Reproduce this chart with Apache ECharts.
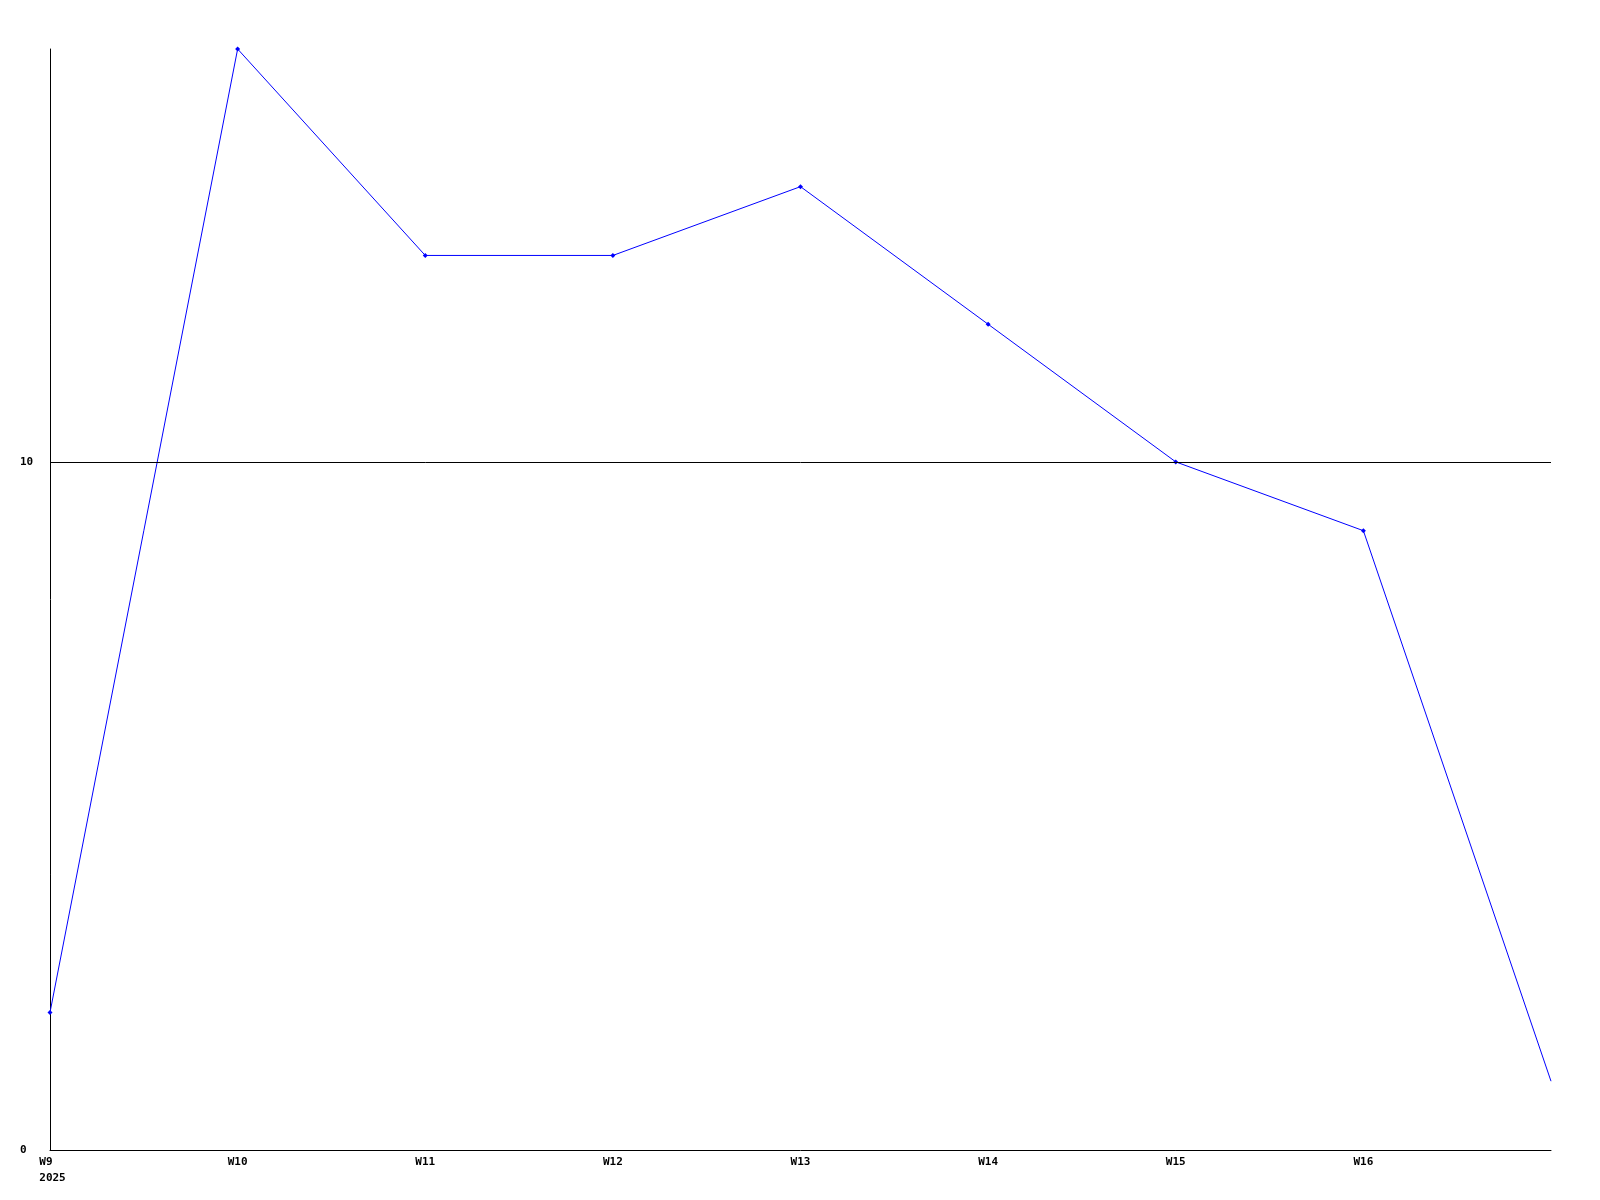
<!DOCTYPE html>
<html>
<head>
<meta charset="utf-8">
<script src="https://cdn.jsdelivr.net/npm/echarts@6/dist/echarts.min.js"></script>
<style>html,body{margin:0;padding:0;background:#fff}#c{width:1600px;height:1200px}</style>
</head>
<body>
<div id="c"></div>
<script>
var categories = ["W9  \n2025", "W10", "W11", "W12", "W13", "W14", "W15", "W16", "W17"];
var values = [2, 16, 13, 13, 14, 12, 10, 9, 1];
var yTicks = [0, 10];

var chart = echarts.init(document.getElementById('c'));
var font = {fontFamily: 'DejaVu Sans Mono', fontWeight: 'bold', fontSize: 11, color: '#000'};
chart.setOption({
  animation: false,
  backgroundColor: '#fff',
  grid: {left: 50, right: 49, top: 49, bottom: 50, containLabel: false},
  xAxis: {
    type: 'category',
    data: categories,
    boundaryGap: false,
    axisLine: {lineStyle: {color: '#000', width: 1}},
    axisTick: {show: false},
    splitLine: {show: false},
    axisLabel: Object.assign({
      margin: 4, lineHeight: 16, showMaxLabel: false, interval: 0,
      formatter: function (v, i) {
        if (i === categories.length - 1) return '';
        return i === 0 ? '{first|' + v.split('\n').join('}\n{first|') + '}' : v;
      },
      rich: {first: {fontFamily: 'DejaVu Sans Mono', fontWeight: 'bold', fontSize: 11, color: '#000', lineHeight: 16, padding: [0, 0, 0, 5]}}
    }, font)
  },
  yAxis: {
    type: 'value',
    min: 0, max: 16, interval: 10,
    axisLine: {show: true, lineStyle: {color: '#000', width: 1}},
    axisTick: {show: false},
    splitLine: {show: false},
    axisLabel: Object.assign({
      align: 'left', margin: 30, showMaxLabel: false,
      formatter: function (v) { return yTicks.indexOf(v) >= 0 ? String(v) : ''; }
    }, font)
  },
  series: [{
    type: 'line',
    data: values.map(function (v, i) {
      return i === values.length - 1 ? {value: v, symbol: 'none'} : v;
    }),
    symbol: 'diamond',
    symbolSize: 5,
    showSymbol: true,
    lineStyle: {color: '#0000ff', width: 1},
    itemStyle: {color: '#0000ff'},
    markLine: {
      silent: true,
      symbol: ['none', 'none'],
      label: {show: false},
      lineStyle: {color: '#000', width: 1, type: 'solid'},
      data: [{yAxis: 10}]
    },
    z: 3
  }]
});
</script>
</body>
</html>
